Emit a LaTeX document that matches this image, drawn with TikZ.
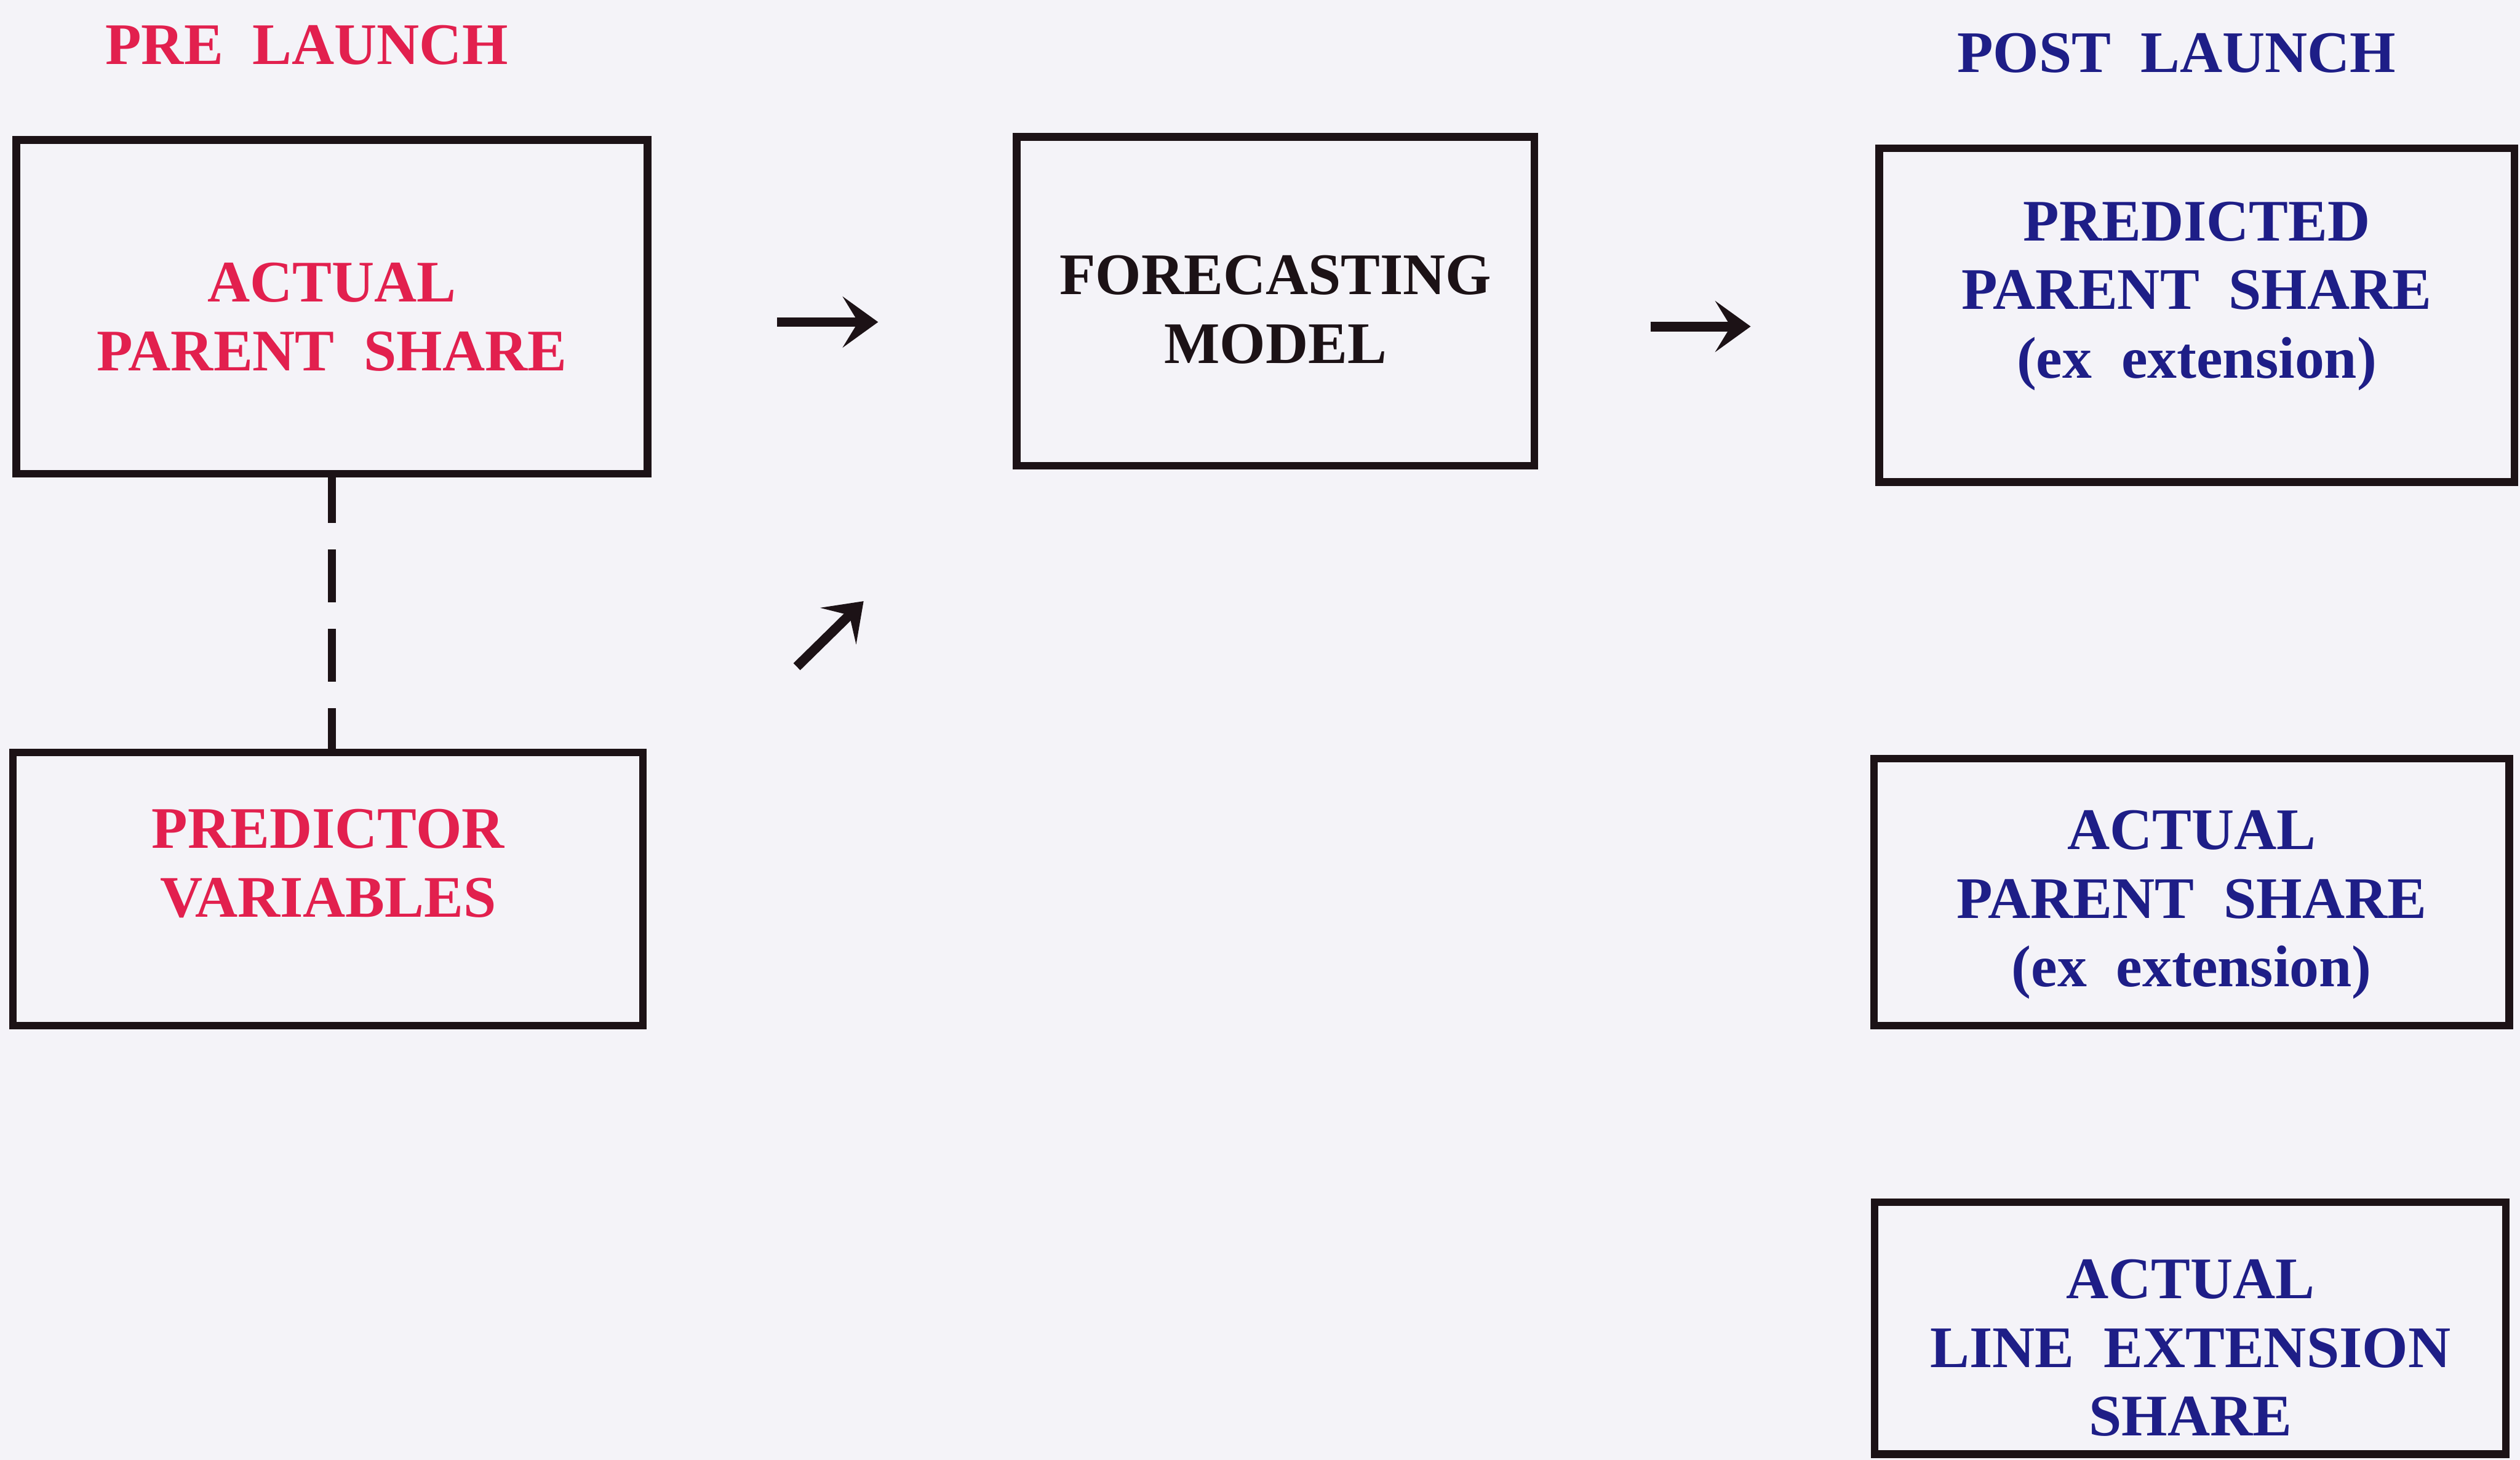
\documentclass[tikz,border=0pt]{standalone}
\usepackage{fontspec}
\setmainfont{Liberation Serif}
\usetikzlibrary{arrows.meta}

\definecolor{ink}{RGB}{28,18,22}
\definecolor{prered}{RGB}{226,32,78}
\definecolor{postblue}{RGB}{30,30,135}
\definecolor{paper}{RGB}{244,243,248}

\tikzstyle{box} = [rectangle, draw=ink, line width=1.7pt, align=center, inner sep=0pt, text=ink, font=\bfseries\fontsize{13.3}{15.5}\selectfont]
\tikzstyle{prebox} = [box, text=prered]
\tikzstyle{postbox} = [box, text=postblue]
\tikzstyle{phase} = [font=\bfseries\fontsize{13.3}{15.5}\selectfont]
\tikzstyle{arrow} = [line width=2.2pt, draw=ink, -{Stealth[length=8pt,width=11.5pt,inset=3.5pt]}]

\begin{document}
\begin{tikzpicture}
	\fill[paper] (0,0) rectangle (20,-11.585);
	\useasboundingbox (0,0) rectangle (20,-11.585);

	\node (parent) [prebox, minimum width=5.01cm, minimum height=2.65cm, text height=1.01cm, text depth=0cm] at (2.634,-2.436) {ACTUAL\\PARENT\ \ SHARE};
	\node (predictor) [prebox, below of=parent, node distance=4.62cm, xshift=-0.03cm, minimum width=5cm, minimum height=2.17cm, text depth=0.41cm] {PREDICTOR\\VARIABLES};
	\node (model) [box, right of=parent, node distance=7.49cm, yshift=0.045cm, minimum width=4.11cm, minimum height=2.61cm, text height=0.98cm, text depth=0cm] {FORECASTING\\MODEL};
	\node (predicted) [postbox, right of=model, node distance=7.31cm, yshift=-0.11cm, minimum width=5.04cm, minimum height=2.65cm, text depth=0.4cm] {PREDICTED\\PARENT\ \ SHARE\\(ex\ \ extension)};
	\node (actual) [postbox, below of=predicted, node distance=4.58cm, xshift=-0.04cm, minimum width=5.04cm, minimum height=2.12cm, text height=1.5cm, text depth=0cm] {ACTUAL\\PARENT\ \ SHARE\\(ex\ \ extension)};
	\node (extension) [postbox, below of=actual, node distance=3.46cm, xshift=-0.01cm, minimum width=5.01cm, minimum height=2cm, text height=1.71cm, text depth=0cm] {ACTUAL\\LINE\ \ EXTENSION\\SHARE};

	\node (pre) [phase, text=prered, above of=parent, node distance=2.08cm, xshift=-0.2cm] {PRE\ \ LAUNCH};
	\node (post) [phase, text=postblue, above of=predicted, node distance=2.08cm, xshift=-0.16cm] {POST\ \ LAUNCH};

	% arrow ends
	\coordinate (a1) at ([yshift=-0.12cm]parent.east);
	\coordinate (a2) at ([yshift=-0.2cm]model.east);
	\coordinate (d1) at ([shift={(1.19,0.65)}]predictor.north east);
	\coordinate (d2) at ([shift={(1.72,1.17)}]predictor.north east);

	\draw [ink, line width=1.7pt, dash pattern=on 0.42cm off 0.21cm, dash phase=0.06cm] (parent.south) -- (parent.south |- predictor.north);
	\draw [arrow, shorten <=1.0cm, shorten >=1.07cm] (a1) -- (a1 -| model.west);
	\draw [arrow, shorten <=0.89cm, shorten >=0.99cm] (a2) -- (a2 -| predicted.west);
	\draw [arrow] (d1) -- (d2);
\end{tikzpicture}
\end{document}
